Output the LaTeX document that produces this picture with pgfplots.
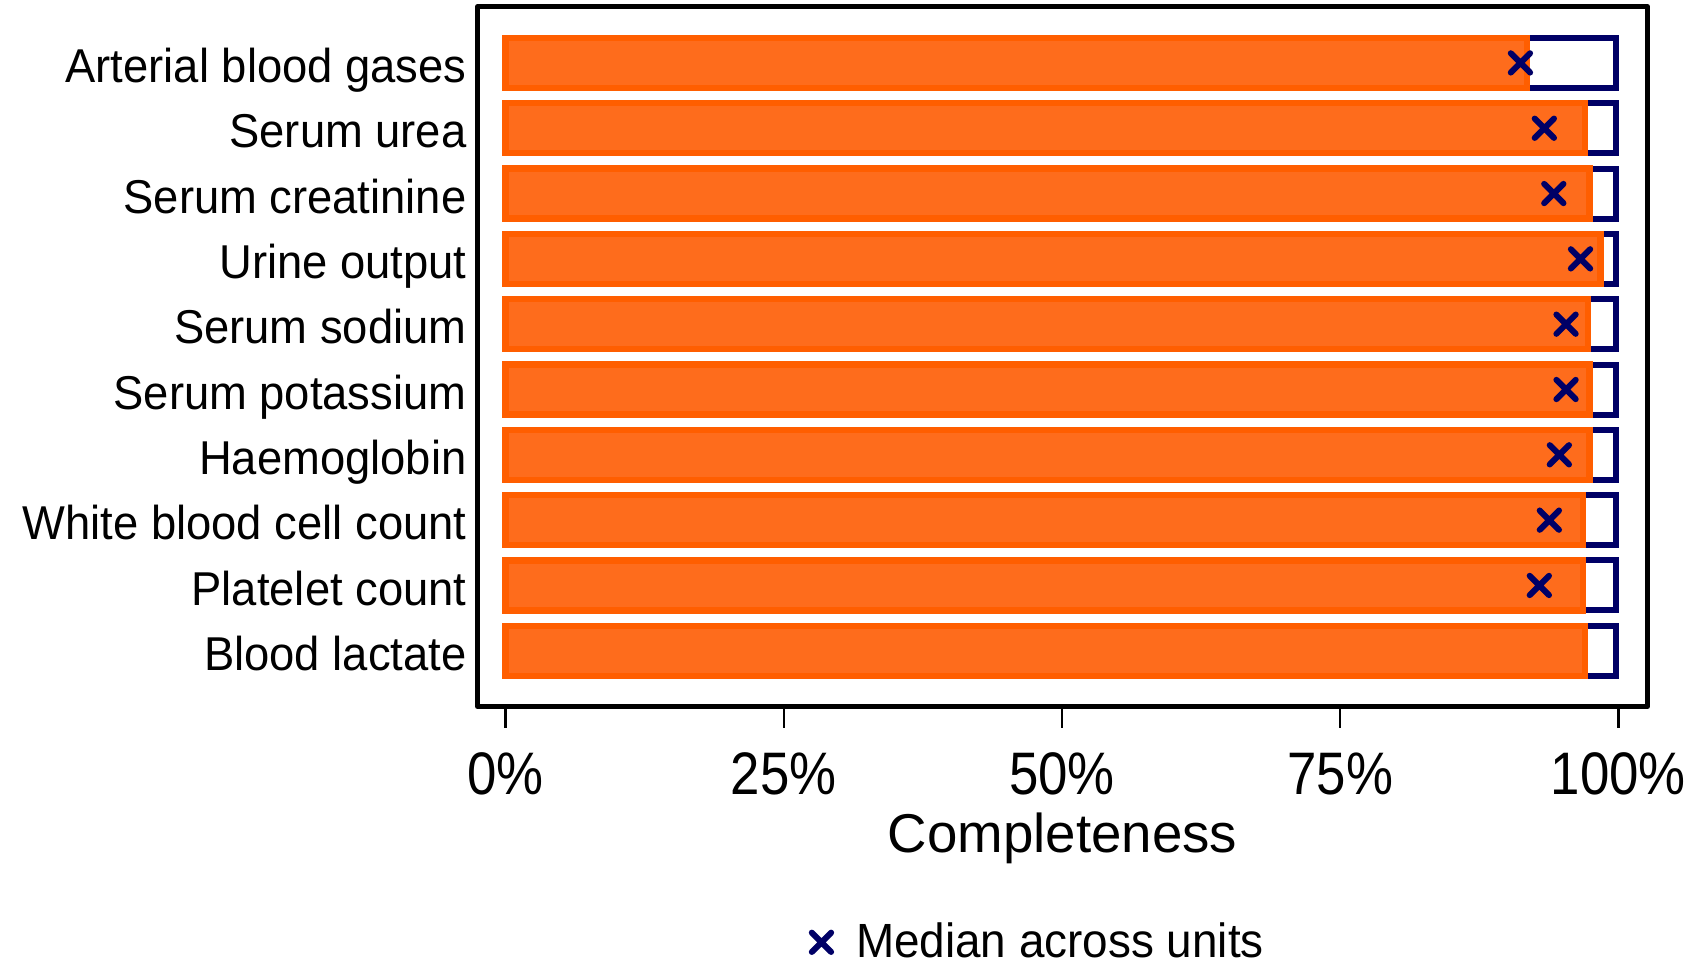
\documentclass[border=0pt]{standalone}
\usepackage{pgfplots}
\pgfplotsset{compat=1.18}
\usepackage{fontspec}
\setmainfont{Liberation Sans}
\newfontfamily\labfont{Liberation Sans}[FakeStretch=0.955]
\newfontfamily\tickfont{Liberation Sans}[FakeStretch=0.88]
\definecolor{barfill}{RGB}{254,108,28}
\definecolor{baredge}{RGB}{255,94,0}
\definecolor{navy}{RGB}{0,0,102}

\begin{document}
\begin{tikzpicture}
\begin{axis}[
    at={(143.25pt,76.95pt)}, anchor=south west,
    scale only axis, width=351pt, height=209.9pt,
    xmin=-2.53, xmax=102.62,
    ymin=-0.853, ymax=9.859,
    axis line style={line width=1.5pt, line join=round},
    xtick={0,25,50,75,100},
    xticklabels={0\%,25\%,50\%,75\%,100\%},
    xtick pos=bottom, tick align=outside, major tick length=6.45pt,
    xtick style={line width=0.7pt, black},
    xticklabel style={font=\fontsize{18}{18}\tickfont, anchor=base, yshift=-20.1pt},
    ytick={0,1,2,3,4,5,6,7,8,9},
    yticklabels={Blood lactate, Platelet count, White blood cell count, Haemoglobin,
        Serum potassium, Serum sodium, Urine output, Serum creatinine,
        Serum urea, Arterial blood gases},
    ytick style={draw=none},
    yticklabel style={font=\fontsize{14.25}{14.25}\labfont, anchor=east,
        inner sep=0pt, text height=10.2pt, text depth=0pt,
        xshift=3.35pt, yshift=-0.8pt},
    xlabel={Completeness},
    xlabel style={font=\fontsize{16.4}{16.4}\selectfont,
        at={(axis description cs:0.5,0)}, anchor=base, yshift=-43.85pt},
    legend style={draw=none, fill=none, font=\fontsize{14.4}{14.4}\labfont,
        at={(axis description cs:0.2729,-0.337)}, anchor=west},
    legend image code/.code={
        \path (-4pt,0pt) (8.2pt,0pt);
        \draw[#1] plot coordinates {(0pt,0pt)};
    },
]

% full-range outline boxes
\addplot[xbar, bar width=15pt, bar shift=0pt, draw=navy, fill=white,
    line width=1.8pt, forget plot]
coordinates {
 (99.8,0) (99.8,1) (99.8,2) (99.8,3) (99.8,4)
 (99.8,5) (99.8,6) (99.8,7) (99.8,8) (99.8,9)
};

% overall completeness
\addplot[xbar, bar width=15pt, bar shift=0pt, draw=baredge, fill=barfill,
    line width=1.9pt, forget plot]
coordinates {
 (97.0,0) (96.8,1) (96.8,2) (97.4,3) (97.4,4)
 (97.25,5) (98.4,6) (97.4,7) (97.0,8) (91.8,9)
};

% median across units
\addplot[only marks, mark=x, mark size=4.1pt, color=navy,
    mark options={line width=1.8pt, line cap=round}]
coordinates {
 (92.9,1) (93.8,2) (94.7,3) (95.3,4)
 (95.3,5) (96.6,6) (94.2,7) (93.35,8) (91.2,9)
};
\addlegendentry{Median across units}

\end{axis}
\pgfresetboundingbox
\useasboundingbox (0pt,0pt) rectangle (509.1pt,288.9pt);
\end{tikzpicture}
\end{document}
